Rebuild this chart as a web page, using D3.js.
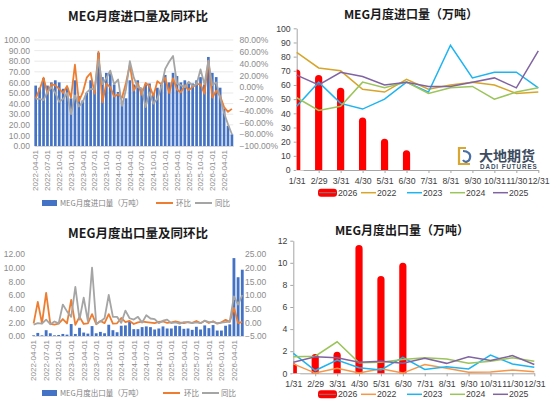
<!DOCTYPE html>
<html>
<head>
<meta charset="utf-8">
<script src="https://cdn.jsdelivr.net/npm/d3@7"></script>
<style>
  body { margin: 0; background: #fff; }
  svg text { font-family: "Liberation Sans", "Noto Sans CJK SC", sans-serif; }
  .cjk { font-family: "Noto Sans CJK SC", sans-serif !important; }
</style>
</head>
<body>
<svg id="chart" width="550" height="407"></svg>
<script>
// ---- monthly series, 2022-04 .. 2026-06 (51 months) ----
const months = d3.timeMonth.range(new Date(2022, 3, 1), new Date(2026, 6, 1));

// imports (万吨), MoM %, YoY %
const importVol = [57, 55, 64, 57, 60, 62, 60, 54, 55,
  45, 62, 47, 43, 50, 62, 55, 88, 65, 69, 69, 58,
  51, 42, 45, 62, 58, 62, 54, 58, 59, 50, 55, 58,
  67, 60, 69, 66, 60, 62, 59, 59, 62, 65, 58, 84,
  69, 65, 55, 35, 19, 11];
const importMoM = [-19, -4, 16, -11, 5, 3, -3, -10, 2,
  -18, 38, -24, -9, 16, 24, -11, 60, -26, 6, 0, -16,
  -12, -18, 7, 38, -6, 7, -13, 7, 2, -15, 10, 5,
  16, -10, 15, -4, -9, 3, -5, 0, 5, 5, -11, 45,
  -18, -6, -15, -34, -42, -37];
const importYoY = [-20, -20, -22, -8, 0, -10, -25, -20, -10,
  -46, -14, -33, -25, -9, -3, -4, 47, 5, 15, 28, 5,
  13, -32, -4, 44, 16, 0, -2, -34, -9, -28, -20, 0,
  31, 43, 53, 6, 3, 0, 9, 2, 5, 30, 5, 45,
  3, 8, -18, -44, -63, -80];

// exports (万吨), MoM, YoY (ratios)
const exportVol = [0.1, 0.45, 0.1, 0.85, 0.4, 0.1, 0.15, 0.3, 0.2,
  1.75, 0.3, 1.2, 0.5, 0.35, 1.45, 0.4, 0.6, 0.4, 1.65, 0.85, 0.55,
  1.5, 1.55, 2.2, 1.0, 1.0, 1.3, 1.4, 1.3, 0.95, 1.1, 1.4, 1.1,
  1.1, 1.5, 1.45, 1.05, 1.1, 0.9, 1.35, 0.95, 1.55, 1.15, 1.6, 0.8,
  0.8, 1.5, 1.7, 11.4, 8.6, 9.7];
const exportMoM = [-0.4, 7.5, -0.4, 10.8, -0.6, -0.8, -0.5, 1.2, -0.4,
  8.2, -0.9, 2.0, -0.6, -0.4, 3.0, -0.7, 0.5, -0.3, 3.0, -0.5, -0.35,
  1.6, 0.05, 0.5, -0.6, 0, 0.3, 0.1, -0.1, -0.3, 0.2, 0.3, -0.2,
  0, 0.35, 0, -0.3, 0.05, -0.2, 0.5, -0.3, 0.6, -0.25, 0.4, -0.5,
  0, 0.9, 0.15, 5.3, -0.25, 0.13];
const exportYoY = [-0.8, -0.3, -0.5, 1.0, -0.7, 0.3, -0.4, 6.5, 4.0,
  2.0, 13.0, 1.0, 9.0, 0.5, 20.0, -0.5, 0.3, 1.5, 10.0, 2.0, 2.0,
  -0.2, 4.3, 1.5, 1.0, 2.0, -0.1, 2.6, 1.4, 1.2, -0.3, 0.6, 1.0,
  -0.3, 0, -0.5, 0.05, 0.1, -0.3, 0, -0.3, 0.6, 0.05, 0.2, -0.3,
  -0.1, 0.1, 0.3, 9.5, 6.5, 10.0];

// ---- seasonal series (by month-end) ----
const monthEnds = ['1/31', '2/29', '3/31', '4/30', '5/31', '6/30', '7/31', '8/31', '9/30', '10/31', '11/30', '12/31'];
const years = ['2026', '2022', '2023', '2024', '2025'];

const imp2026 = [71, 67, 58, 37, 22, 14];
const imp2022 = [83, 72, 70, 57, 55, 64, 57, 60, 62, 60, 54, 55];
const imp2023 = [45, 62, 47, 43, 50, 62, 55, 88, 65, 69, 69, 58];
const imp2024 = [51, 42, 45, 62, 58, 62, 54, 58, 59, 50, 55, 58];
const imp2025 = [67, 60, 69, 66, 60, 62, 59, 59, 62, 65, 58, 84];

const exp2026 = [0.9, 1.75, 1.95, 11.6, 8.8, 10.0];
const exp2022 = [0.85, 0.02, 0.45, 0.02, 0.4, 0.02, 0.8, 0.45, 0.1, 0.12, 0.3, 0.15];
const exp2023 = [1.8, 0.25, 1.2, 0.5, 0.3, 1.45, 0.35, 0.6, 0.4, 1.65, 0.85, 0.55];
const exp2024 = [1.5, 1.55, 2.85, 0.95, 1.0, 1.25, 1.4, 1.3, 0.9, 1.1, 1.4, 1.1];
const exp2025 = [1.0, 1.5, 1.4, 1.0, 1.1, 0.9, 1.35, 0.9, 1.5, 1.15, 1.6, 0.8];

const svg = d3.select('#chart');
svg.append('rect').attr('width', 550).attr('height', 407).attr('fill', '#fff');

const BLUE = '#4472C4', ORANGE = '#ED7D31', GREY = '#A5A5A5';

/** Bars + MoM/YoY lines on a secondary axis. */
function comboChart(c) {
  const g = svg.append('g');
  const x = d3.scaleBand().domain(months).range([c.xLeft, c.xRight]).paddingInner(0.32);
  const yL = d3.scaleLinear().domain(c.leftDomain).range([c.yBottom, c.yTop]);
  const yR = d3.scaleLinear().domain(c.rightDomain).range([c.yBottom, c.yTop]);
  const leftTicks = d3.range(c.leftDomain[0], c.leftDomain[1] + 1e-9, c.leftStep);
  const rightTicks = d3.range(c.rightDomain[0], c.rightDomain[1] + 1e-9, c.rightStep);

  g.append('text').attr('class', 'cjk')
    .attr('x', c.titleX).attr('y', c.titleY)
    .attr('text-anchor', 'middle').attr('font-size', 12.5).attr('font-weight', 'bold')
    .attr('fill', '#1a1a1a').text(c.title);

  if (c.grid) {
    g.selectAll('line.grid').data(leftTicks).join('line')
      .attr('x1', c.xLeft).attr('x2', c.xRight)
      .attr('y1', d => yL(d)).attr('y2', d => yL(d))
      .attr('stroke', '#e3e3e3').attr('stroke-width', 0.8);
  }

  const axL = g.append('g').attr('transform', `translate(${c.leftLabelX},0)`)
    .call(d3.axisLeft(yL).tickValues(leftTicks).tickFormat(d3.format('.2f')).tickSize(0).tickPadding(0));
  const axR = g.append('g').attr('transform', `translate(${c.rightLabelX},0)`)
    .call(d3.axisRight(yR).tickValues(rightTicks).tickFormat(c.rightFormat).tickSize(0).tickPadding(0));
  [axL, axR].forEach(a => {
    a.select('.domain').remove();
    a.selectAll('text').attr('font-size', 8.5).attr('fill', '#8c8c8c');
  });

  const axB = g.append('g').attr('transform', `translate(0,${c.yBottom})`)
    .call(d3.axisBottom(x).tickValues(months.filter((d, i) => i % 3 === 0))
      .tickFormat(d3.timeFormat('%Y-%m-%d')).tickSize(0));
  axB.select('.domain').attr('stroke', '#d9d9d9');
  axB.selectAll('text')
    .attr('transform', 'rotate(-90)')
    .attr('x', -c.labelGap).attr('y', 0).attr('dy', '0.35em')
    .attr('text-anchor', 'end').attr('font-size', 8).attr('fill', '#8c8c8c');

  g.selectAll('rect.bar').data(c.bars).join('rect')
    .attr('x', (d, i) => x(months[i])).attr('width', x.bandwidth())
    .attr('y', d => yL(d)).attr('height', d => yL(0) - yL(d))
    .attr('fill', BLUE);

  const line = d3.line().x((d, i) => x(months[i]) + x.bandwidth() / 2).y(d => yR(d));
  g.append('path').datum(c.mom).attr('d', line)
    .attr('fill', 'none').attr('stroke', ORANGE).attr('stroke-width', 1.8).attr('stroke-linejoin', 'round');
  g.append('path').datum(c.yoy).attr('d', line)
    .attr('fill', 'none').attr('stroke', GREY).attr('stroke-width', 1.8).attr('stroke-linejoin', 'round');

  // legend
  const ly = c.legendY;
  g.append('rect').attr('x', 42).attr('y', ly - 3).attr('width', 15).attr('height', 6).attr('fill', BLUE);
  g.append('line').attr('x1', c.leg[0]).attr('x2', c.leg[0] + 17).attr('y1', ly).attr('y2', ly)
    .attr('stroke', ORANGE).attr('stroke-width', 2);
  g.append('line').attr('x1', c.leg[2]).attr('x2', c.leg[2] + 17).attr('y1', ly).attr('y2', ly)
    .attr('stroke', GREY).attr('stroke-width', 2);
  [[60, c.legendName], [c.leg[1], '环比'], [c.leg[3], '同比']].forEach(([lx, t]) => {
    g.append('text').attr('class', 'cjk').attr('x', lx).attr('y', ly).attr('dy', '0.35em')
      .attr('font-size', 7.5).attr('fill', '#7f7f7f').text(t);
  });
}

/** Seasonal chart: 2026 as red capsules, earlier years as lines. */
function seasonChart(c) {
  const g = svg.append('g');
  const x = d3.scalePoint().domain(monthEnds).range([c.xLeft, c.xRight]);
  const y = d3.scaleLinear().domain([0, c.max]).range([c.yBottom, c.yTop]);

  g.append('text').attr('class', 'cjk')
    .attr('x', c.titleX).attr('y', c.titleY)
    .attr('text-anchor', 'middle').attr('font-size', 12).attr('font-weight', 'bold')
    .attr('fill', '#1a1a1a').text(c.title);

  const axL = g.append('g').attr('transform', `translate(${c.xLeft},0)`)
    .call(d3.axisLeft(y).tickValues(d3.range(0, c.max + 1e-9, c.step)).tickSize(3).tickSizeOuter(0).tickPadding(3));
  const axB = g.append('g').attr('transform', `translate(0,${c.yBottom})`)
    .call(d3.axisBottom(x).tickSize(3).tickSizeOuter(0).tickPadding(5));
  [axL, axB].forEach(a => {
    a.selectAll('.domain, line').attr('stroke', '#a6a6a6');
    a.selectAll('text').attr('font-size', 8.7).attr('fill', '#404040');
  });

  const clipId = 'clip' + c.id;
  g.append('clipPath').attr('id', clipId).append('rect')
    .attr('x', c.xLeft).attr('y', 0).attr('width', c.xRight - c.xLeft + 10).attr('height', c.yBottom);
  g.append('g').attr('clip-path', `url(#${clipId})`)
    .selectAll('rect').data(c.cur).join('rect')
    .attr('x', (d, i) => x(monthEnds[i]) - 3.6).attr('width', 7.2)
    .attr('y', d => y(d)).attr('height', d => y(0) - y(d) + 4)
    .attr('rx', 3.6).attr('fill', '#ff0000');

  const line = d3.line().x((d, i) => x(monthEnds[i])).y(d => y(d));
  c.series.forEach((s, k) => {
    g.append('path').datum(s).attr('d', line)
      .attr('fill', 'none').attr('stroke', c.colors[k + 1]).attr('stroke-width', 1.5);
  });
  g.append('rect').attr('x', c.xLeft - 1).attr('y', c.yBottom + 0.5).attr('width', 8).attr('height', 6).attr('fill', '#fff');

  // legend
  const ly = c.legendY;
  const lx = [318, 361, 407, 450, 493];
  years.forEach((yr, k) => {
    if (k === 0) {
      g.append('rect').attr('x', lx[0]).attr('y', ly - 4).attr('width', 19).attr('height', 8)
        .attr('rx', 3).attr('fill', '#ff0000');
      g.append('line').attr('x1', lx[0] + 1).attr('x2', lx[0] + 18).attr('y1', ly).attr('y2', ly)
        .attr('stroke', '#7f7f7f').attr('stroke-width', 1);
    } else {
      g.append('line').attr('x1', lx[k]).attr('x2', lx[k] + 15).attr('y1', ly).attr('y2', ly)
        .attr('stroke', c.colors[k]).attr('stroke-width', 1.5);
    }
    g.append('text').attr('x', lx[k] + (k === 0 ? 20 : 16)).attr('y', ly).attr('dy', '0.35em')
      .attr('font-size', 8.7).attr('fill', '#404040').text(yr);
  });
}

comboChart({
  title: 'MEG月度进口量及同环比', titleX: 138, titleY: 21,
  bars: importVol, mom: importMoM, yoy: importYoY,
  xLeft: 34.35, xRight: 233.25, yTop: 40, yBottom: 146,
  leftDomain: [0, 100], leftStep: 10, rightDomain: [-100, 80], rightStep: 20,
  rightFormat: d => d3.format('.2f')(d) + '%',
  leftLabelX: 30, rightLabelX: 239.5, labelGap: 4, grid: true,
  legendY: 203, legendName: 'MEG月度进口量（万吨）', leg: [156, 176, 195, 215]
});

comboChart({
  title: 'MEG月度出口量及同环比', titleX: 138, titleY: 238,
  bars: exportVol, mom: exportMoM, yoy: exportYoY,
  xLeft: 32.2, xRight: 243.7, yTop: 254, yBottom: 336,
  leftDomain: [0, 12], leftStep: 2, rightDomain: [-5, 25], rightStep: 5,
  rightFormat: d3.format('.2f'),
  leftLabelX: 25, rightLabelX: 245, labelGap: 4, grid: false,
  legendY: 393, legendName: 'MEG月度出口量（万吨）', leg: [163, 184, 202, 221]
});

seasonChart({
  id: 'imp', title: 'MEG月度进口量（万吨）', titleX: 411, titleY: 19,
  xLeft: 296.7, xRight: 538.3, yTop: 28.3, yBottom: 170, max: 100, step: 10,
  cur: imp2026, series: [imp2022, imp2023, imp2024, imp2025],
  colors: ['#ff0000', '#D6A52A', '#1EB4F0', '#9BC45A', '#8064A2'],
  legendY: 192.7
});

seasonChart({
  id: 'exp', title: 'MEG月度出口量（万吨）', titleX: 402, titleY: 235,
  xLeft: 293.3, xRight: 534.3, yTop: 240.7, yBottom: 373.3, max: 12, step: 2,
  cur: exp2026, series: [exp2022, exp2023, exp2024, exp2025],
  colors: ['#ff0000', '#F79646', '#1EB4F0', '#9BC45A', '#8064A2'],
  legendY: 394.3
});

// company logo (top-right panel)
const logo = svg.append('g');
logo.append('path').attr('d', 'M466,148 L459,148 L459,164 L470,164')
  .attr('fill', 'none').attr('stroke', '#D9A630').attr('stroke-width', 2.2);
logo.append('path').attr('d', 'M463,151 C468,151 471,154 470,158 C469,162 465,163 463,160')
  .attr('fill', 'none').attr('stroke', '#4A6FA5').attr('stroke-width', 2.2);
logo.append('text').attr('class', 'cjk').attr('x', 479).attr('y', 160.5)
  .attr('font-size', 14).attr('font-weight', 'bold').attr('fill', '#3C4B5E').text('大地期货');
logo.append('text').attr('x', 480).attr('y', 169)
  .attr('font-size', 6.3).attr('font-weight', 'bold').attr('letter-spacing', 0.9)
  .attr('fill', '#3C4B5E').text('DADI FUTURES');
</script>
</body>
</html>
